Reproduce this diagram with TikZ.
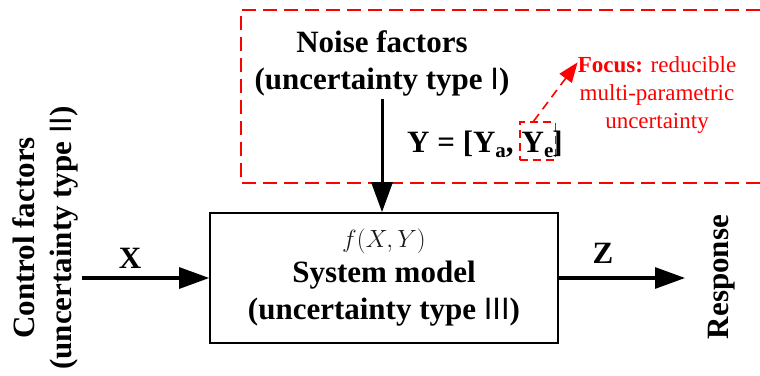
\documentclass[tikz,border=0pt]{standalone}
\usepackage{fontspec}
\setmainfont{Liberation Serif}
\newfontfamily\numfont{Liberation Sans}
\usepackage{tikz}
\usetikzlibrary{positioning,arrows.meta}
\newcommand{\typenum}[1]{{\numfont\mdseries #1}}
\newcommand{\sub}[1]{\raisebox{-5pt}{\fontsize{21}{21}\selectfont #1}}

\begin{document}
\begin{tikzpicture}[x=1pt,y=1pt,
    font=\fontsize{31}{37}\selectfont\bfseries,
    >={Triangle[length=30pt,width=21pt]},
    flow/.style={->,line width=3pt},
    focus/.style={red,dash pattern=on 14pt off 7pt,line width=1.6pt},
    txt/.style={align=center,inner sep=0pt}]
    \useasboundingbox (0,0) rectangle (760,375);
    % noise area
    \draw[focus] (760,365) -- (241,365) -- (241,192) -- (760,192);
    \node[txt] (noise) at (382,312) {Noise factors\\(uncertainty type \typenum{I})};
    % system model
    \node[draw,line width=1.6pt,minimum width=348pt,minimum height=130pt,
      align=center,inner sep=0pt] (sys) at (384,97)
      {{\mdseries\color{black!90}\fontsize{27}{28}\selectfont$f(X,Y)$}\\[-2pt]
       System model\\(uncertainty type \typenum{III})};
    \draw[flow] ([yshift=-3pt]noise.south) -- (noise.south |- sys.north);
    % Y vector
    \node[inner sep=0pt,anchor=base west] (yl) at (407,222) {Y = [Y\sub{a},};
    \node[draw=red,dash pattern=on 8pt off 5pt,line width=1.6pt,inner sep=2pt,
      text height=29pt,text depth=5pt,anchor=base west] (ye) at ([xshift=5pt]yl.base east) {Y\sub{e}};
    \node[inner sep=0pt,anchor=base west] (yr) at ([xshift=-4pt]ye.base east) {]};
    \node[txt,red,font=\fontsize{23}{28}\selectfont] (note) at (657,280)
      {\textbf{Focus:} reducible\\multi-parametric\\uncertainty};
    \draw[focus,dash pattern=on 9pt off 6pt,->,>={Triangle[length=20pt,width=15pt]}]
      ([xshift=-4pt]ye.north) -- ([yshift=-6pt]note.north west);
    % inputs and output
    \node[txt,rotate=90] (ctrl) at (45,137) {Control factors\\(uncertainty type \typenum{II})};
    \coordinate (xin) at (82,97);
    \draw[flow] (xin) -- (sys.west);
    \node (xlab) at (130,117) {X};
    \coordinate (zout) at (685,97);
    \draw[flow] (sys.east) -- (zout);
    \node (zlab) at (603,122) {Z};
    \node[txt,rotate=90] (resp) at (722,98) {Response};
\end{tikzpicture}
\end{document}
